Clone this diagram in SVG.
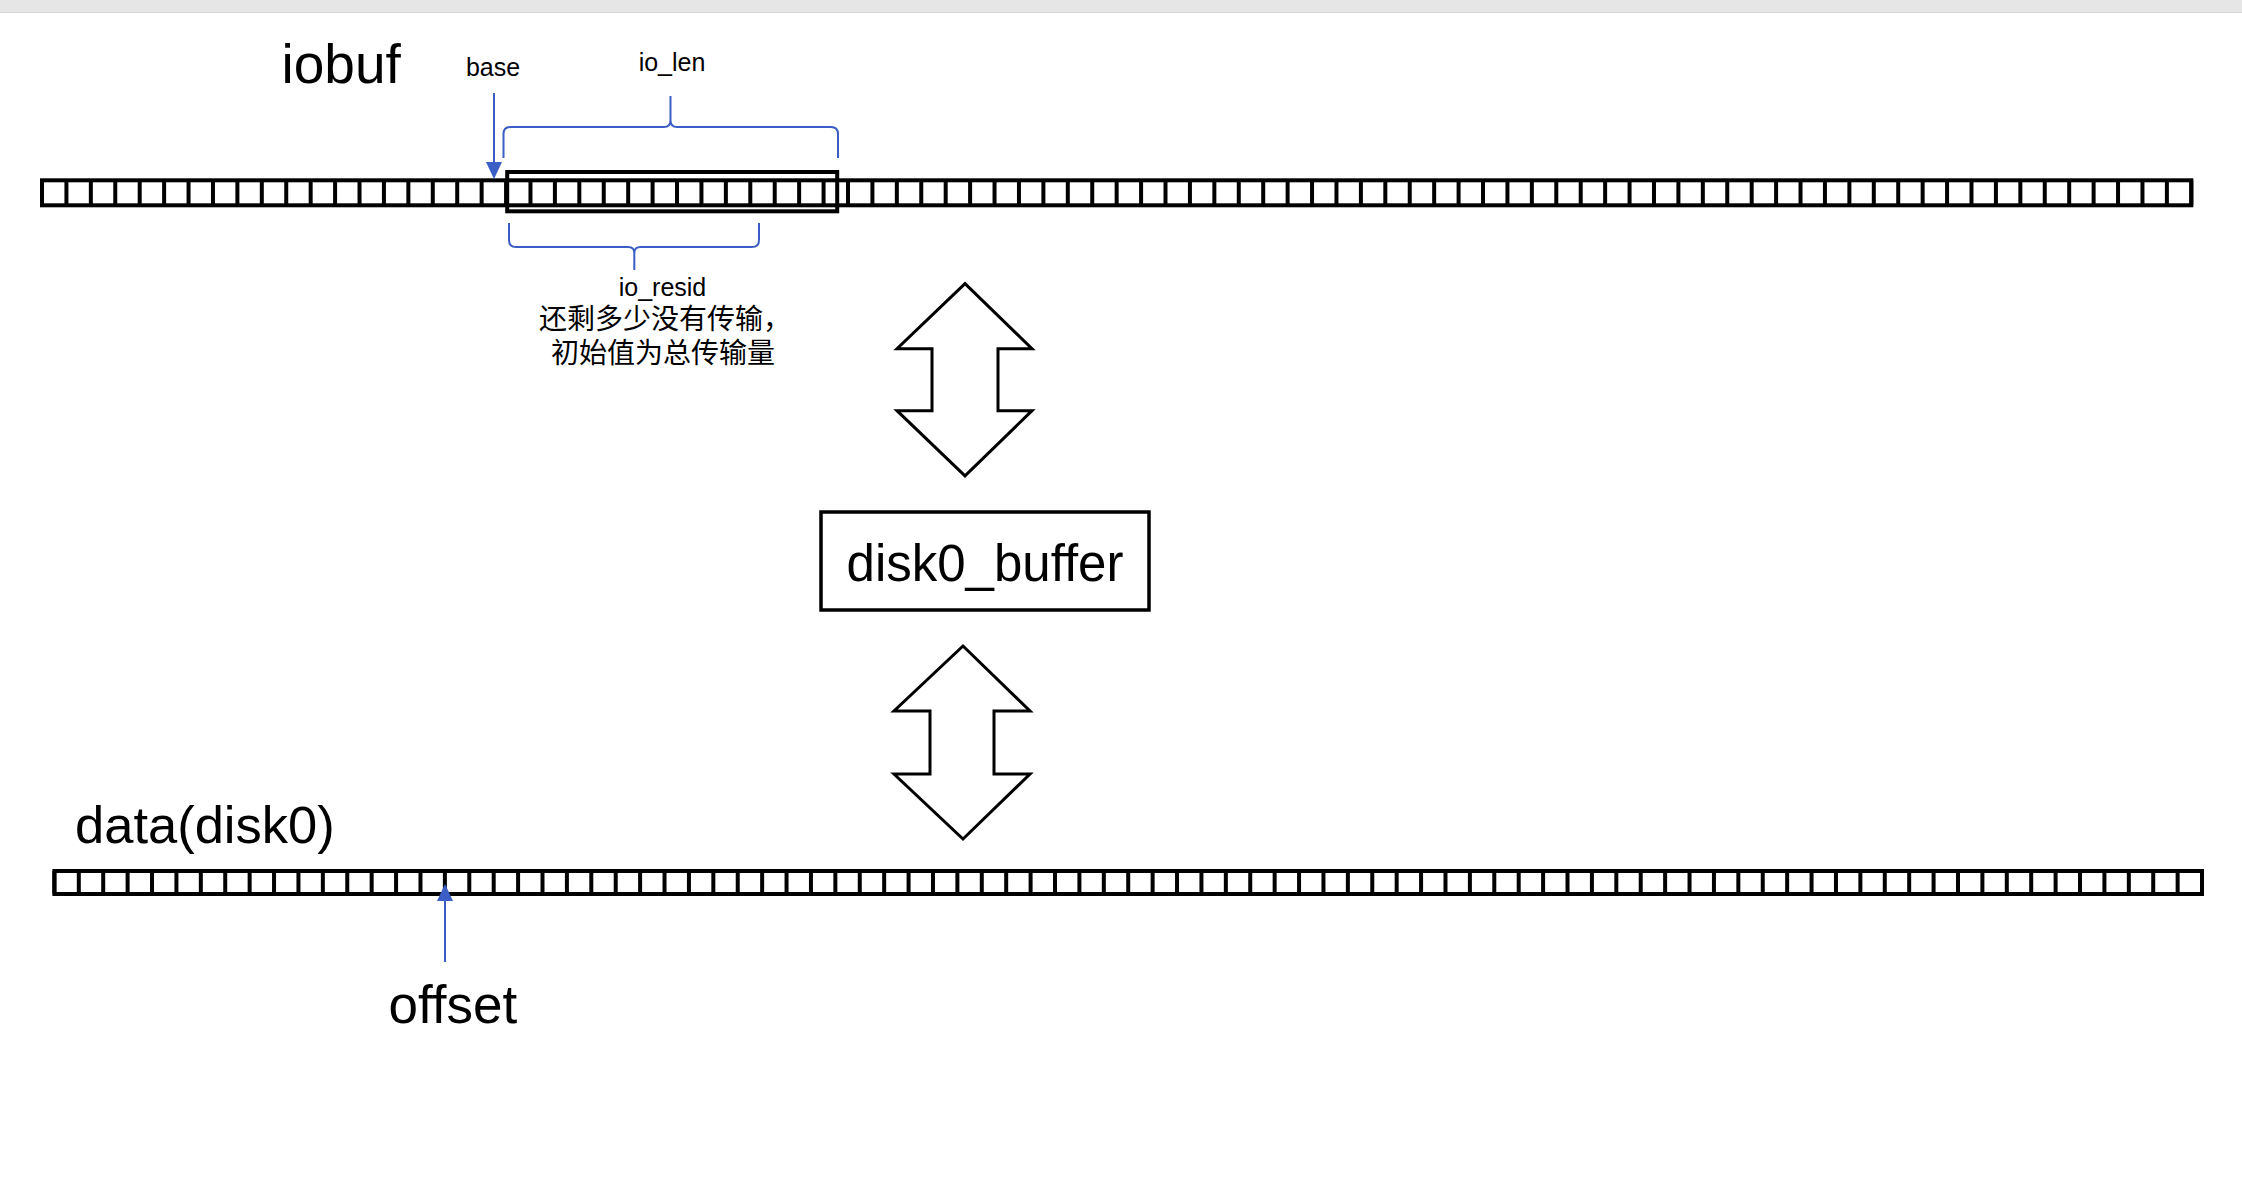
<svg xmlns="http://www.w3.org/2000/svg" width="2242" height="1200" viewBox="0 0 2242 1200">
<style>
.bg{fill:#ffffff}
.strip{fill:#e6e6e6}
.frame{fill:none;stroke:#000;stroke-width:4}
.cells{fill:none;stroke:#000}
.box{fill:#fff;stroke:#000;stroke-width:3.5}
.dbl{fill:#fff;stroke:#000;stroke-width:3;stroke-linejoin:miter}
.blue{fill:none;stroke:#3B5EC6;stroke-width:2}
.brace{fill:none;stroke:#3B5EC6;stroke-width:2;stroke-linecap:butt}
.t{font-family:'Liberation Sans','Noto Sans CJK SC',sans-serif;fill:#000}
</style>
<defs>
<marker id="ah" viewBox="0 0 17 16" refX="0" refY="8" markerWidth="17" markerHeight="16" markerUnits="userSpaceOnUse" orient="auto">
<path d="M0,0 L17,8 L0,16 z" fill="#3B5EC6"/>
</marker>
</defs>
<rect class="bg" x="0" y="0" width="2242" height="1200"/>
<rect class="strip" x="0" y="0" width="2242" height="12"/>
<line x1="0" y1="12.5" x2="2242" y2="12.5" stroke="#d6d6d6" stroke-width="1"/>

<g id="iobuf-array">
<line class="cells" x1="40" y1="192.8" x2="2193.3" y2="192.8" stroke-width="25" stroke-dasharray="4 20.424"/>
<rect class="frame" x="42" y="180.3" width="2149.3" height="25"/>
</g>
<g id="io-len-range">
<rect class="frame" x="507.2" y="172" width="330" height="39.3"/>
</g>

<g id="disk0-array">
<line class="cells" x1="52.4" y1="882.5" x2="2204" y2="882.5" stroke-width="23" stroke-dasharray="4 20.405"/>
<rect class="frame" x="54.4" y="871" width="2147.6" height="23"/>
</g>

<g id="disk0-buffer">
<rect class="box" x="821" y="512" width="328" height="98"/>
<text class="t" x="985" y="581" font-size="51" text-anchor="middle">disk0_buffer</text>
</g>

<g id="label-iobuf">
<text class="t" x="281.5" y="82.5" font-size="55">iobuf</text>
</g>
<g id="label-data">
<text class="t" x="75" y="843" font-size="52.5">data(disk0)</text>
</g>
<g id="label-base">
<text class="t" x="493" y="75.7" font-size="25" text-anchor="middle">base</text>
</g>
<g id="label-io-len">
<text class="t" x="672" y="71" font-size="25" text-anchor="middle">io_len</text>
</g>
<g id="label-io-resid">
<text class="t" x="662.5" y="295.5" font-size="25" text-anchor="middle">io_resid</text>
<text class="t" x="539" y="328.5" font-size="28">还剩多少没有传输，</text>
<text class="t" x="551" y="363" font-size="28">初始值为总传输量</text>
</g>
<g id="label-offset">
<text class="t" x="388.5" y="1022.5" font-size="53">offset</text>
</g>

<g id="connectors">
<line class="blue" x1="494" y1="93" x2="494" y2="162" marker-end="url(#ah)"/>
<line class="blue" x1="445" y1="962" x2="445" y2="901" marker-end="url(#ah)"/>
<path class="brace" d="M503.5,158 L503.5,134 Q503.5,127 510.5,127 L664,127 Q670.5,127 670.5,120 L670.5,96 M670.5,120 Q670.5,127 677,127 L831,127 Q838,127 838,134 L838,158"/>
<path class="brace" d="M509,223 L509,240 Q509,247 516,247 L628,247 Q634.3,247 634.3,253 L634.3,270 M634.3,253 Q634.3,247 640.5,247 L752,247 Q759,247 759,240 L759,223"/>
<polygon class="dbl" points="965,283.7 1032,348.7 998,348.7 998,410.7 1032,410.7 965,475.8 897,410.7 932,410.7 932,348.7 897,348.7"/>
<polygon class="dbl" points="963,646 1030,711 994,711 994,774 1030,774 963,839 894,774 930,774 930,711 894,711"/>
</g>
</svg>
